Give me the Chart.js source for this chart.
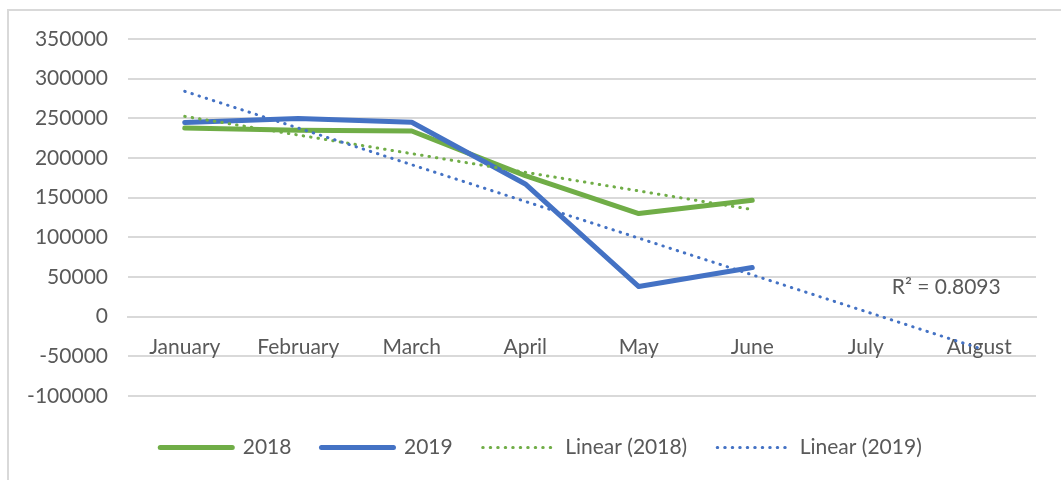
<!DOCTYPE html>
<html>
<head>
<meta charset="utf-8">
<script src="https://cdn.jsdelivr.net/npm/chart.js@4"></script>
<style>
  html, body { margin: 0; padding: 0; background: #fff; }
  canvas { display: block; }
</style>
</head>
<body>
<canvas id="chart" width="1061" height="480"></canvas>
<script>
const months = ["January", "February", "March", "April", "May", "June", "July", "August"];
const sales2018 = [237800, 234900, 234000, 177700, 129800, 146600];
const sales2019 = [244600, 249600, 245000, 167200, 37800, 61700];
// trendline endpoints as they appear in the picture
const linear2018 = [252400, null, null, null, null, 134900];
const linear2019 = [284000, null, null, null, null, null, null, -40000];
const r2Text = "R² = 0.8093";

const green = "#70AD47";
const blue = "#4472C4";
const textColor = "#595959";
const gridColor = "#D9D9D9";
const font = { family: "Lato", size: 21 };
const dotted = [0.5, 7];

const frame = {
  id: "frame",
  beforeDraw(chart) {
    const { ctx } = chart;
    ctx.save();
    ctx.fillStyle = "#fff";
    ctx.fillRect(0, 0, chart.width, chart.height);
    ctx.strokeStyle = gridColor;
    ctx.lineWidth = 2;
    ctx.strokeRect(8, 10, chart.width, chart.height);
    ctx.restore();
  },
};

// legend sits a bit right of the canvas centre in the original
const shiftLegend = {
  id: "shiftLegend",
  afterLayout(chart) {
    chart.legend.left += 20;
    chart.legend.right += 20;
  },
};

const r2Label = {
  id: "r2Label",
  afterDatasetsDraw(chart) {
    const { ctx, scales } = chart;
    ctx.save();
    ctx.font = font.size + "px " + font.family;
    ctx.fillStyle = textColor;
    ctx.textAlign = "left";
    ctx.textBaseline = "middle";
    ctx.fillText(r2Text, scales.x.getPixelForValue(6) + 26, scales.y.getPixelForValue(37000));
    ctx.restore();
  },
};

// legend entries drawn as lines, keeping each dataset's dash and cap
function legendLabels(chart) {
  const items = Chart.defaults.plugins.legend.labels.generateLabels(chart);
  return items
    .map((item) => {
      const ds = chart.data.datasets[item.datasetIndex];
      item.lineDash = ds.borderDash || [];
      item.lineCap = ds.borderCapStyle || "butt";
      item.lineWidth = ds.borderWidth;
      item.strokeStyle = ds.borderColor;
      return item;
    })
    .sort((a, b) => a.datasetIndex - b.datasetIndex);
}

new Chart(document.getElementById("chart"), {
  type: "line",
  data: {
    labels: months,
    datasets: [
      {
        label: "2018",
        data: sales2018,
        borderColor: green,
        backgroundColor: green,
        borderWidth: 5,
        borderCapStyle: "round",
        borderJoinStyle: "round",
        pointRadius: 0,
        order: 3,
      },
      {
        label: "2019",
        data: sales2019,
        borderColor: blue,
        backgroundColor: blue,
        borderWidth: 5,
        borderCapStyle: "round",
        borderJoinStyle: "round",
        pointRadius: 0,
        order: 2,
      },
      {
        label: "Linear (2018)",
        data: linear2018,
        borderColor: green,
        backgroundColor: green,
        borderWidth: 3,
        borderDash: dotted,
        borderCapStyle: "round",
        spanGaps: true,
        pointRadius: 0,
        order: 1,
      },
      {
        label: "Linear (2019)",
        data: linear2019,
        borderColor: blue,
        backgroundColor: blue,
        borderWidth: 3,
        borderDash: dotted,
        borderCapStyle: "round",
        spanGaps: true,
        pointRadius: 0,
        order: 0,
      },
    ],
  },
  options: {
    responsive: false,
    animation: false,
    layout: { padding: { top: 39, left: 6, right: 25, bottom: 12 } },
    plugins: {
      tooltip: { enabled: false },
      legend: {
        position: "bottom",
        title: { display: true, text: "", font: { size: 1 }, padding: { top: 10, bottom: 0 } },
        labels: {
          font: font,
          color: textColor,
          usePointStyle: true,
          pointStyle: "line",
          pointStyleWidth: 72,
          padding: 30,
          generateLabels: legendLabels,
        },
      },
    },
    scales: {
      x: {
        position: { y: 0 },
        offset: true,
        grid: { display: false, drawTicks: false },
        border: { display: true, color: gridColor, width: 2 },
        ticks: { font: font, color: textColor, padding: 18, maxRotation: 0, autoSkip: false },
      },
      y: {
        min: -100000,
        max: 350000,
        afterFit(scale) {
          scale.width = 122;
        },
        grid: { color: gridColor, lineWidth: 2, drawTicks: false },
        border: { display: false },
        ticks: { stepSize: 50000, font: font, color: textColor, padding: 20, callback: (v) => String(v) },
      },
    },
  },
  plugins: [frame, shiftLegend, r2Label],
});
</script>
</body>
</html>
